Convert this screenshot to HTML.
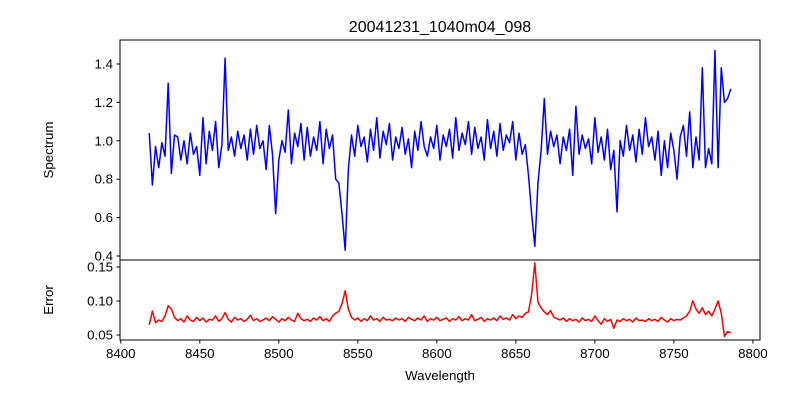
<!DOCTYPE html>
<html><head><meta charset="utf-8"><style>
body{margin:0;background:#fff;}
svg{display:block;font-family:"Liberation Sans","DejaVu Sans",sans-serif;}
</style></head><body>
<svg id="chart" width="800" height="400" xmlns="http://www.w3.org/2000/svg">
<rect width="800" height="400" fill="#fff"/>
<text x="440" y="32" font-size="16" text-anchor="middle">20041231_1040m04_098</text>
<text x="53" y="150" font-size="13.3" text-anchor="middle" transform="rotate(-90 53 150)">Spectrum</text>
<text x="53" y="300" font-size="13.3" text-anchor="middle" transform="rotate(-90 53 300)">Error</text>
<text x="440" y="380" font-size="13.3" text-anchor="middle">Wavelength</text>
<g id="g"></g>
</svg>
<script>
const wavelengths=[8418,8420,8422,8424,8426,8428,8430,8432,8434,8436,8438,8440,8442,8444,8446,8448,8450,8452,8454,8456,8458,8460,8462,8464,8466,8468,8470,8472,8474,8476,8478,8480,8482,8484,8486,8488,8490,8492,8494,8496,8498,8500,8502,8504,8506,8508,8510,8512,8514,8516,8518,8520,8522,8524,8526,8528,8530,8532,8534,8536,8538,8540,8542,8544,8546,8548,8550,8552,8554,8556,8558,8560,8562,8564,8566,8568,8570,8572,8574,8576,8578,8580,8582,8584,8586,8588,8590,8592,8594,8596,8598,8600,8602,8604,8606,8608,8610,8612,8614,8616,8618,8620,8622,8624,8626,8628,8630,8632,8634,8636,8638,8640,8642,8644,8646,8648,8650,8652,8654,8656,8658,8660,8662,8664,8666,8668,8670,8672,8674,8676,8678,8680,8682,8684,8686,8688,8690,8692,8694,8696,8698,8700,8702,8704,8706,8708,8710,8712,8714,8716,8718,8720,8722,8724,8726,8728,8730,8732,8734,8736,8738,8740,8742,8744,8746,8748,8750,8752,8754,8756,8758,8760,8762,8764,8766,8768,8770,8772,8774,8776,8778,8780,8782,8784,8786];
const spectrum=[1.04,0.77,0.97,0.86,0.99,0.92,1.30,0.83,1.03,1.02,
0.90,1.00,0.88,1.04,0.93,0.97,0.82,1.12,0.88,1.05,
0.95,1.10,0.86,0.98,1.43,0.95,1.02,0.92,1.05,0.96,
1.03,0.90,1.06,0.93,1.08,0.96,1.00,0.85,1.08,0.93,
0.62,0.90,1.00,0.94,1.16,0.88,1.04,0.97,1.09,0.90,
1.07,0.92,1.02,0.95,1.10,0.88,1.06,0.96,1.03,0.80,
0.78,0.62,0.43,0.85,1.03,0.92,1.08,0.97,1.02,0.89,
1.06,0.95,1.12,0.91,1.05,0.98,1.09,0.90,1.02,0.96,
1.07,0.93,1.01,0.86,1.05,0.95,1.10,0.97,0.92,1.02,
0.96,1.08,0.90,1.03,0.97,1.06,0.91,1.12,0.95,1.04,
0.98,1.10,0.93,1.07,0.96,1.02,0.90,1.11,0.96,1.05,
0.92,1.09,0.95,1.03,0.99,1.10,0.90,1.04,0.93,0.98,
0.82,0.62,0.45,0.78,0.95,1.22,0.93,1.05,0.97,1.03,
0.88,1.02,0.95,1.06,0.82,1.18,0.93,1.03,0.96,1.01,
0.88,1.12,0.94,1.02,0.90,1.06,0.85,0.95,0.63,1.00,
0.92,1.08,0.95,1.03,0.89,1.06,0.93,1.12,0.97,1.02,
0.90,1.05,0.82,1.00,0.86,1.04,0.95,0.80,1.02,1.08,
0.92,1.15,0.86,1.02,0.90,1.38,0.86,0.96,0.88,1.47,
0.86,1.38,1.20,1.22,1.27];
const errors=[0.065,0.085,0.068,0.072,0.070,0.078,0.093,0.088,0.076,0.071,
0.074,0.069,0.078,0.072,0.070,0.076,0.071,0.075,0.069,0.073,
0.072,0.078,0.070,0.074,0.083,0.073,0.069,0.076,0.072,0.074,
0.070,0.073,0.079,0.071,0.074,0.070,0.072,0.075,0.071,0.077,
0.073,0.069,0.074,0.071,0.076,0.072,0.070,0.082,0.074,0.071,
0.073,0.070,0.075,0.072,0.077,0.071,0.074,0.070,0.078,0.082,
0.085,0.096,0.115,0.088,0.076,0.072,0.075,0.070,0.074,0.071,
0.078,0.072,0.074,0.070,0.076,0.072,0.073,0.071,0.075,0.072,
0.074,0.070,0.076,0.073,0.071,0.075,0.072,0.078,0.070,0.074,
0.072,0.076,0.071,0.073,0.075,0.070,0.074,0.072,0.077,0.071,
0.074,0.072,0.080,0.071,0.073,0.076,0.070,0.074,0.072,0.075,
0.071,0.078,0.073,0.075,0.072,0.080,0.074,0.078,0.076,0.082,
0.084,0.110,0.156,0.098,0.090,0.084,0.080,0.086,0.076,0.074,
0.072,0.075,0.070,0.074,0.071,0.073,0.069,0.075,0.071,0.073,
0.070,0.078,0.071,0.066,0.074,0.070,0.073,0.060,0.072,0.070,
0.074,0.071,0.073,0.069,0.075,0.071,0.072,0.070,0.074,0.071,
0.073,0.070,0.076,0.072,0.069,0.074,0.071,0.073,0.072,0.075,
0.078,0.085,0.100,0.088,0.082,0.090,0.080,0.085,0.078,0.088,
0.100,0.082,0.048,0.055,0.053];
const xTicks=[8400,8450,8500,8550,8600,8650,8700,8750,8800];
const specTicks=[0.4,0.6,0.8,1.0,1.2,1.4];
const errTicks=[0.05,0.10,0.15];

const L=120,R=760,T1=40,B1=260,T2=260,B2=340;
const X0=8399.5,X1=8804.5;
function xs(v){return L+(v-X0)/(X1-X0)*(R-L);}
function ys1(v){return 64+(1.4-v)*192;}
function ys2(v){return 267+(0.15-v)*680;}
const NS='http://www.w3.org/2000/svg';
const g=document.getElementById('g');
function mk(tag,attrs){const e=document.createElementNS(NS,tag);for(const k in attrs)e.setAttribute(k,attrs[k]);g.appendChild(e);return e;}

let p=mk('path',{d:wavelengths.map((w,i)=>(i?'L':'M')+xs(w).toFixed(2)+' '+ys1(spectrum[i]).toFixed(2)).join(''),fill:'none',stroke:'#0000ff','stroke-width':1.5,'stroke-linejoin':'round'});


p=mk('path',{d:wavelengths.map((w,i)=>(i?'L':'M')+xs(w).toFixed(2)+' '+ys2(errors[i]).toFixed(2)).join(''),fill:'none',stroke:'#ff0000','stroke-width':1.5,'stroke-linejoin':'round'});



let r=mk('rect',{x:L,y:T1,width:R-L,height:B1-T1,fill:'none',stroke:'#000','stroke-width':1});


r=mk('rect',{x:L,y:T2,width:R-L,height:B2-T2,fill:'none',stroke:'#000','stroke-width':1});



specTicks.forEach(v=>{const y=ys1(v);
 const t=mk('line',{x1:L-3.5,x2:L,y1:y,y2:y,stroke:'#000'});
 
 
 const s=mk('text',{x:L-7,y:y+4.5,'font-size':13.3,'text-anchor':'end'});s.textContent=v.toFixed(1);
 
 
});
errTicks.forEach(v=>{const y=ys2(v);
 const t=mk('line',{x1:L-3.5,x2:L,y1:y,y2:y,stroke:'#000'});
 
 
 const s=mk('text',{x:L-7,y:y+4.5,'font-size':13.3,'text-anchor':'end'});s.textContent=v.toFixed(2);
 
 
});
xTicks.forEach(v=>{const x=xs(v);
 const t=mk('line',{x1:x,x2:x,y1:B2,y2:B2+3.5,stroke:'#000'});
 
 
 const s=mk('text',{x:x,y:B2+18,'font-size':13.3,'text-anchor':'middle'});s.textContent=v;
 
 
});
</script>
</body></html>
